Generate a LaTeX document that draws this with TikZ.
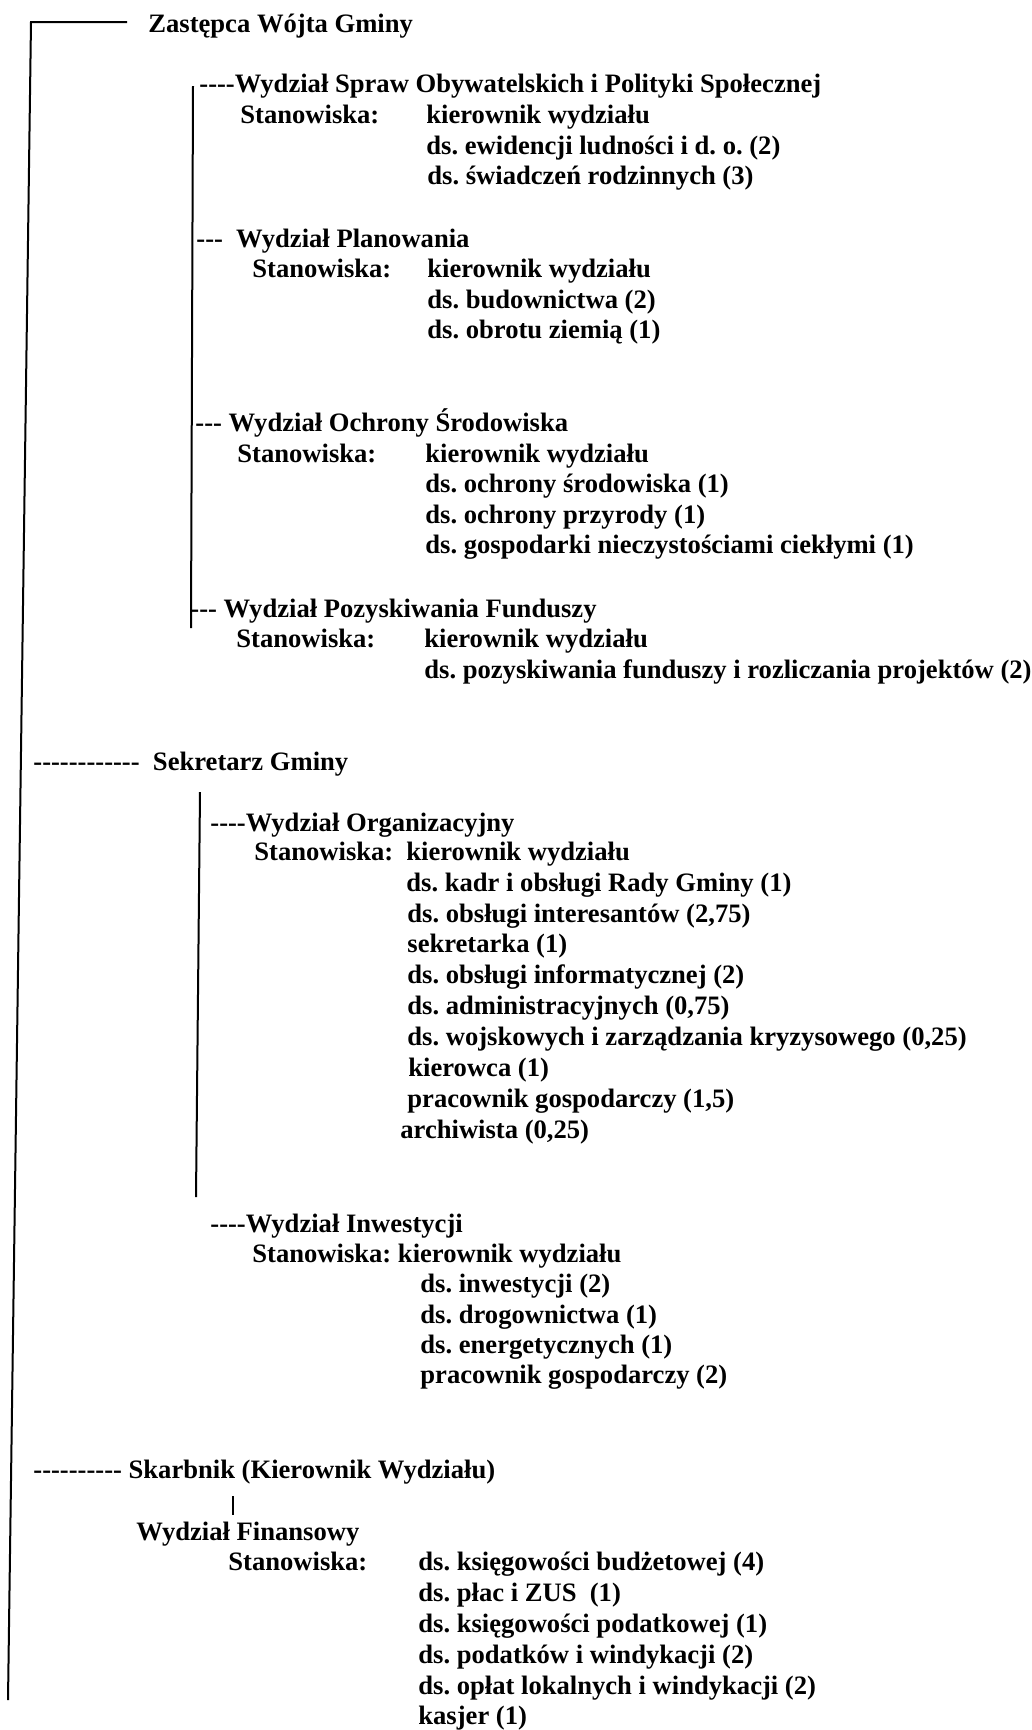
\documentclass[tikz,border=0pt]{standalone}
\usepackage{fontspec}
\setmainfont{Liberation Serif}
\frenchspacing
% typed hyphens, kept apart so that they do not become dashes
\newcommand\hyph[1]{\foreach\k in {1,...,#1}{-\kern0pt}}

\begin{document}
\begin{tikzpicture}[x=0.5pt,y=-0.5pt]
\tikzstyle{every node}+=[inner sep=0pt,anchor=base west,font=\fontsize{13.3pt}{15pt}\selectfont\bfseries]
\tikzstyle{branch}=[black,line width=1pt]
\useasboundingbox (0,0) rectangle (1032,1730);

% main line
\coordinate (mainTop) at (31,22);
\coordinate (mainEnd) at (8,1700);
\coordinate (zastEnd) at (127,22);
\node (zast) at (148,32) {Zastępca Wójta Gminy};
\draw [branch] (zastEnd) -- (mainTop) -- (mainEnd);

% Zastepca
\coordinate (zsubTop) at (193,86);
\coordinate (zsubEnd) at (191,628);
\draw [branch] (zsubTop) -- (zsubEnd);
\node (spraw) at (199,92) {\hyph{4}Wydział Spraw Obywatelskich i Polityki Społecznej};
\node (sprawSt) at (240,123) {Stanowiska:};
\node (spraw1) at (426,123) {kierownik wydziału};
\node (spraw2) at (426,154) {ds. ewidencji ludności i d. o. (2)};
\node (spraw3) at (427,184) {ds. świadczeń rodzinnych (3)};
\node (plan) at (196,247) {\hyph{3}\ \ Wydział Planowania};
\node (planSt) at (252,277) {Stanowiska:};
\node (plan1) at (427,277) {kierownik wydziału};
\node (plan2) at (427,308) {ds. budownictwa (2)};
\node (plan3) at (427,338) {ds. obrotu ziemią (1)};
\node (ochr) at (195,431) {\hyph{3} Wydział Ochrony Środowiska};
\node (ochrSt) at (237,462) {Stanowiska:};
\node (ochr1) at (425,462) {kierownik wydziału};
\node (ochr2) at (425,492) {ds. ochrony środowiska (1)};
\node (ochr3) at (425,523) {ds. ochrony przyrody (1)};
\node (ochr4) at (425,553) {ds. gospodarki nieczystościami ciekłymi (1)};
\node (pozy) at (190,617) {\hyph{3} Wydział Pozyskiwania Funduszy};
\node (pozySt) at (236,647) {Stanowiska:};
\node (pozy1) at (424,647) {kierownik wydziału};
\node (pozy2) at (424,678) {ds. pozyskiwania funduszy i rozliczania projektów (2)};

% Sekretarz
\node (sekr) at (33,770) {\hyph{12}\ \ Sekretarz Gminy};
\coordinate (ssubTop) at (200,792);
\coordinate (ssubEnd) at (196,1197);
\draw [branch] (ssubTop) -- (ssubEnd);
\node (org) at (210,831) {\hyph{4}Wydział Organizacyjny};
\node (orgSt) at (254,860) {Stanowiska:};
\node (org1) at (406,860) {kierownik wydziału};
\node (org2) at (406,891) {ds. kadr i obsługi Rady Gminy (1)};
\node (org3) at (407,922) {ds. obsługi interesantów (2,75)};
\node (org4) at (407,952) {sekretarka (1)};
\node (org5) at (407,983) {ds. obsługi informatycznej (2)};
\node (org6) at (407,1014) {ds. administracyjnych (0,75)};
\node (org7) at (407,1045) {ds. wojskowych i zarządzania kryzysowego (0,25)};
\node (org8) at (408,1076) {kierowca (1)};
\node (org9) at (407,1107) {pracownik gospodarczy (1,5)};
\node (org10) at (400,1138) {archiwista (0,25)};
\node (inw) at (210,1232) {\hyph{4}Wydział Inwestycji};
\node (inwSt) at (252,1262) {Stanowiska: kierownik wydziału};
\node (inw1) at (420,1292) {ds. inwestycji (2)};
\node (inw2) at (420,1323) {ds. drogownictwa (1)};
\node (inw3) at (420,1353) {ds. energetycznych (1)};
\node (inw4) at (420,1383) {pracownik gospodarczy (2)};

% Skarbnik
\node (skarb) at (33,1478) {\hyph{10} Skarbnik (Kierownik Wydziału)};
\coordinate (tickTop) at (233,1496);
\coordinate (tickEnd) at (233,1515);
\draw [black,line width=0.8pt] (tickTop) -- (tickEnd);
\node (fin) at (136,1540) {Wydział Finansowy};
\node (finSt) at (228,1570) {Stanowiska:};
\node (fin1) at (418,1570) {ds. księgowości budżetowej (4)};
\node (fin2) at (418,1601) {ds. płac i ZUS\ \ (1)};
\node (fin3) at (418,1632) {ds. księgowości podatkowej (1)};
\node (fin4) at (418,1663) {ds. podatków i windykacji (2)};
\node (fin5) at (418,1694) {ds. opłat lokalnych i windykacji (2)};
\node (fin6) at (418,1724) {kasjer (1)};
\end{tikzpicture}
\end{document}
